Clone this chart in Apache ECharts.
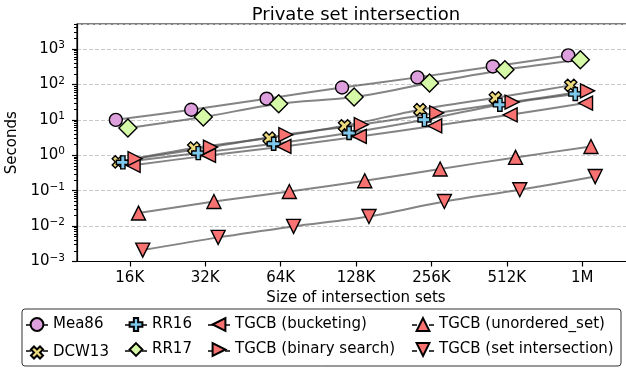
<!DOCTYPE html>
<html><head><meta charset="utf-8">
<script src="https://cdn.jsdelivr.net/npm/echarts@6/dist/echarts.min.js"></script>
<style>html,body{margin:0;padding:0;background:#fff}#c{width:626px;height:368px}</style>
</head><body><div id="c"></div>
<script>
// ---- data ----
const categories = ['16K', '32K', '64K', '128K', '256K', '512K', '1M'];
const tickPositions = [14, 15, 16, 17, 18, 19, 20]; // log2 of set size
const yTickExponents = [-3, -2, -1, 0, 1, 2, 3];
const mea86     = [10, 19.3, 39.5, 82, 158, 322, 660];
const dcw13     = [0.65, 1.6, 3.06, 6.8, 19.3, 42, 94];
const rr16      = [0.63, 1.15, 2.11, 4.24, 10, 26.7, 53.6];
const rr17      = [5.9, 12.0, 28.5, 44, 110, 260, 499];
const bucketing = [0.52, 0.99, 1.77, 3.4, 6.8, 13.9, 29.8];
const binary    = [0.80, 1.7, 3.8, 7.3, 15.6, 31.8, 66];
const unordered = [0.0233, 0.0495, 0.095, 0.19, 0.41, 0.87, 1.77];
const setInt    = [0.0021, 0.0048, 0.0098, 0.0187, 0.0495, 0.106, 0.25];

// ---- styles ----
const plusPath = 'path://M1,0H2V1H3V2H2V3H1V2H0V1H1Z';
const red = '#f87272';
const defs = [
  {name: 'Mea86', data: mea86, symbol: 'circle', size: 13, rot: 0, color: '#dda0dd', dx: -0.185},
  {name: 'DCW13', data: dcw13, symbol: plusPath, size: 13, rot: 45, color: '#ecd97b', dx: -0.152},
  {name: 'RR16', data: rr16, symbol: plusPath, size: 13, rot: 0, color: '#7ec8ec', dx: -0.092},
  {name: 'RR17', data: rr17, symbol: 'diamond', size: 18, rot: 0, color: '#d5f9a6', dx: -0.025},
  {name: 'TGCB (bucketing)', data: bucketing, symbol: 'triangle', size: 14, rot: 90, color: red, dx: 0.044},
  {name: 'TGCB (binary search)', data: binary, symbol: 'triangle', size: 14, rot: -90, color: red, dx: 0.07},
  {name: 'TGCB (unordered_set)', data: unordered, symbol: 'triangle', size: 14, rot: 0, color: red, dx: 0.116},
  {name: 'TGCB (set intersection)', data: setInt, symbol: 'triangle', size: 14, rot: 180, color: red, dx: 0.172}
];

const minorVals = [];
yTickExponents.forEach(e => { for (let m = 2; m <= 9; m++) { const v = m * Math.pow(10, e); if (v <= 5080) minorVals.push(v); } });

const series = [];
defs.forEach(d => {
  const pts = d.data.map((v, i) => [tickPositions[i] + d.dx, v]);
  series.push({
    name: '_line_' + d.name, type: 'line', data: pts, showSymbol: false, symbol: 'none',
    smooth: 0.3, z: 2, silent: true,
    lineStyle: {color: '#555', opacity: 0.72, width: 2}
  });
});
defs.forEach(d => {
  const pts = d.data.map((v, i) => [tickPositions[i] + d.dx, v]);
  series.push({
    name: d.name, type: 'line', data: pts, symbol: d.symbol, symbolSize: d.size, symbolRotate: d.rot,
    showAllSymbol: true, z: 3,
    itemStyle: {color: d.color, borderColor: '#000', borderWidth: 1.4},
    lineStyle: {opacity: 0, width: 0},
    emphasis: {disabled: true}
  });
});

const legendCols = [[0, 1], [2, 3], [4, 5], [6, 7]];
const legendLeft = [26, 125, 208, 412];
const legendTop = 317, legendItemH = 16, legendGap = 10, legendItemW = 22;
const legends = legendCols.map((c, k) => ({
  data: c.map(i => defs[i].name), orient: 'vertical', left: legendLeft[k], top: legendTop,
  itemWidth: legendItemW, itemHeight: legendItemH, itemGap: legendGap, padding: 0, selectedMode: false,
  textStyle: {fontSize: 15, color: '#000', fontFamily: 'DejaVu Sans'}
}));
const graphics = [{type: 'rect', shape: {x: 22, y: 309, width: 599, height: 57, r: 3},
  style: {fill: 'none', stroke: '#333', lineWidth: 1}, z: 0}];
legendLeft.forEach(l => {
  [0, 1].forEach(r => {
    const y = legendTop + legendItemH / 2 + r * (legendItemH + legendGap);
    graphics.push({type: 'line', shape: {x1: l, y1: y, x2: l + 5, y2: y},
      style: {stroke: '#000', lineWidth: 1.5}, z: 100});
    graphics.push({type: 'line', shape: {x1: l + legendItemW - 5, y1: y, x2: l + legendItemW, y2: y},
      style: {stroke: '#000', lineWidth: 1.5}, z: 100});
  });
});

const chart = echarts.init(document.getElementById('c'), null, {renderer: 'canvas'});
chart.setOption({
  animation: false,
  textStyle: {fontFamily: 'DejaVu Sans'},
  title: {text: 'Private set intersection', left: 351, top: 1, textAlign: 'center',
    textStyle: {fontSize: 18, fontWeight: 'normal', color: '#000', fontFamily: 'DejaVu Sans'}},
  grid: {left: 77, top: 24, right: -9, bottom: 106.5, show: true, borderColor: '#000', borderWidth: 1.2,
    containLabel: false, outerBoundsMode: 'none'},
  legend: legends,
  graphic: graphics,
  xAxis: {
    type: 'value', min: 13.3, max: 20.7,
    name: 'Size of intersection sets', nameLocation: 'middle', nameGap: 28,
    nameTextStyle: {fontSize: 15, color: '#000'},
    axisLine: {show: true, lineStyle: {color: '#000', width: 1.2}},
    axisTick: {show: true, length: 5, lineStyle: {color: '#000', width: 1.2}, customValues: tickPositions},
    axisLabel: {fontSize: 15, color: '#000', margin: 9, customValues: tickPositions,
      formatter: v => categories[tickPositions.indexOf(Math.round(v))] || ''},
    splitLine: {show: false}
  },
  yAxis: [{
    type: 'log', logBase: 10, min: 0.001, max: 5080,
    name: 'Seconds', nameLocation: 'middle', nameGap: 56, nameRotate: 90,
    nameTextStyle: {fontSize: 15, color: '#000'},
    axisLine: {show: true, lineStyle: {color: '#000', width: 1.2}},
    axisTick: {show: true, length: 5, lineStyle: {color: '#000', width: 1.2}},
    axisLabel: {margin: 12, showMaxLabel: false, color: '#000',
      formatter: v => {
        const e = Math.round(Math.log10(v));
        if (Math.abs(Math.log10(v) - e) > 1e-6) return '';
        return '{b|10}{s|' + (e < 0 ? '\u2212' : '') + Math.abs(e) + '}';
      },
      rich: {b: {fontSize: 15, lineHeight: 18, color: '#000'}, s: {fontSize: 10.5, lineHeight: 11, verticalAlign: 'top', color: '#000'}}
    },
    splitLine: {show: true, lineStyle: {color: '#c8c8c8', type: [4, 2], width: 1}}
  }, {
    type: 'log', logBase: 10, min: 0.001, max: 5080, position: 'left',
    axisLine: {show: false}, axisLabel: {show: false}, splitLine: {show: false},
    axisTick: {show: true, length: 3, lineStyle: {color: '#000', width: 1}, customValues: minorVals}
  }],
  series: series
});
</script>
</body></html>
